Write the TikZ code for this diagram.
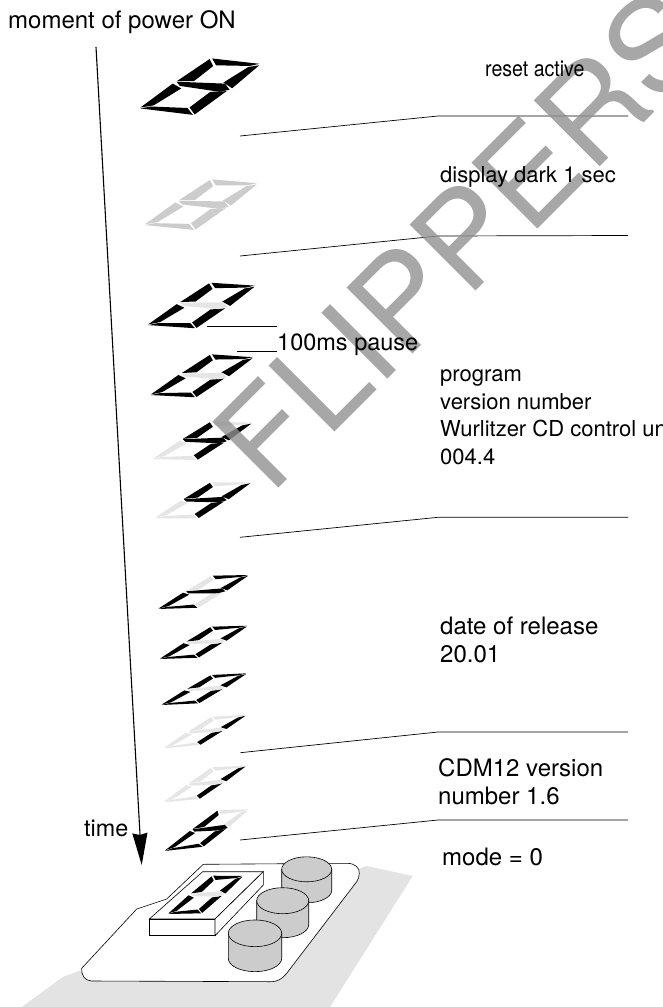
\documentclass[tikz,border=0pt]{standalone}
\usepackage{fontspec}
\setmainfont{TeX Gyre Heros}
\usetikzlibrary{calc,arrows.meta}
\definecolor{segoff}{gray}{0.90}
\definecolor{segdim}{gray}{0.80}
\definecolor{segon}{gray}{0}
\definecolor{knobgray}{gray}{0.80}
\definecolor{shadowgray}{gray}{0.89}
\definecolor{wmgray}{gray}{0.57}
\newcommand{\pp}[2]{($($(BL)!#2!(TL)$)!#1!($(BR)!#2!(TR)$)$)}
\newcommand{\corners}[4]{%
  \coordinate (BL) at (#1);\coordinate (BR) at (#2);\coordinate (TL) at (#3);\coordinate (TR) at (#4);}
\newcommand{\segs}[7]{%
  \fill[#1] \pp{.03}{1} -- \pp{.97}{1} -- \pp{.85}{.945} -- \pp{.26}{.89} -- cycle;
  \fill[#2] \pp{1}{.975} -- \pp{1.05}{.53} -- \pp{.78}{.61} -- \pp{.85}{.925} -- cycle;
  \fill[#3] \pp{1}{.01} -- \pp{.77}{.12} -- \pp{.77}{.425} -- \pp{1.02}{.47} -- cycle;
  \fill[#4] \pp{.02}{0} -- \pp{.98}{0} -- \pp{.75}{.105} -- \pp{.14}{.055} -- cycle;
  \fill[#5] \pp{0}{.015} -- \pp{.16}{.08} -- \pp{.22}{.425} -- \pp{-.03}{.49} -- cycle;
  \fill[#6] \pp{-.02}{.54} -- \pp{.26}{.575} -- \pp{.23}{.87} -- \pp{0}{.985} -- cycle;
  \fill[#7] \pp{-.01}{.53} -- \pp{.83}{.595} -- \pp{1.04}{.5} -- \pp{.92}{.445} -- \pp{.14}{.465} -- cycle;
}
\newcommand{\knob}[4]{% cx cy r h
  \fill[knobgray,draw=black,line width=.6pt] (#1-#3,#2) -- (#1-#3,#2+#4) arc[start angle=180,end angle=360,x radius=#3,y radius=-.5*#3] -- (#1+#3,#2) -- cycle;
  \filldraw[fill=knobgray,draw=black,line width=.6pt] (#1,#2) ellipse[x radius=#3,y radius=.5*#3];
}
\tikzset{
  lbl/.style={anchor=base west,inner sep=0pt,text=black,font=\fontsize{22}{22}\selectfont},
  lblbig/.style={lbl,font=\fontsize{24}{24}\selectfont},
  leader/.style={draw=black,line width=.7pt},
  thinline/.style={draw=black,line width=.6pt},
}
\begin{document}
\begin{tikzpicture}[x=1pt,y=-1pt]
\useasboundingbox (0,0) rectangle (662,1007);
\fill[white] (0,0) rectangle (662,1007);

% shadow and board
\fill[shadowgray] (366.7,866) -- (412.7,876) -- (330,1007) -- (21.7,1007) -- (63.3,976.7) -- cycle;
\filldraw[fill=white,thinline] (203.3,864.3) -- (347,863.3) .. controls (355,863.3) and (360,868) .. (359.3,873.3) .. controls (359,877) and (358.5,879) .. (356.7,881.7) -- (286.7,973.3) .. controls (282,979) and (278,981.7) .. (270,981.7) -- (91.7,981) .. controls (85,981) and (81,975) .. (81.7,968.3) -- (136.7,909) -- (166.7,899) -- cycle;
% display box
\filldraw[fill=white,thinline] (149.3,919) -- (202.7,871.7) -- (263.3,871.7) -- (215,919) -- cycle;
\filldraw[fill=white,thinline] (149.3,919) -- (215,919) -- (215,935.7) -- (149.3,935.7) -- cycle;
\filldraw[fill=white,thinline] (215,919) -- (263.3,871.7) -- (263.3,885) -- (215,935.7) -- cycle;
\corners{167.7,914}{201.7,913.3}{212.3,875.7}{243.3,876}
\segs{segon}{segon}{segon}{segon}{segon}{segon}{segoff}
% knobs
\knob{306.7}{869.3}{25}{21}
\knob{282.7}{900.7}{26}{24}
\knob{255}{933.3}{26.7}{25}

% digits
\corners{139.3,108.3}{194,115}{210.7,58.3}{261,64}
\segs{segon}{segon}{segon}{segon}{segon}{segon}{segon}
\corners{144,225}{195,230}{210.7,179.3}{258.3,183.3}
\segs{segdim}{segdim}{segdim}{segdim}{segdim}{segdim}{segdim}
\corners{147.3,325}{196,328.3}{210,282.7}{256,285.7}
\segs{segon}{segon}{segon}{segon}{segon}{segon}{segoff}
\corners{150,395}{196,397.3}{210.7,354.3}{254,357.3}
\segs{segon}{segon}{segon}{segon}{segon}{segon}{segoff}
\corners{152.3,459}{197.3,460}{210.7,421.7}{252.7,422.7}
\segs{segoff}{segon}{segon}{segoff}{segoff}{segon}{segon}
\corners{154.3,518.3}{198.3,518.3}{210.7,482.3}{251.7,482.3}
\segs{segoff}{segon}{segon}{segoff}{segoff}{segon}{segon}
\corners{157.7,609}{198.3,607.7}{211.7,575.7}{249.3,575}
\segs{segon}{segon}{segoff}{segon}{segon}{segoff}{segon}
\corners{159.3,659}{198.3,657.7}{211,626.7}{248.3,625.7}
\segs{segon}{segon}{segon}{segon}{segon}{segon}{segoff}
\corners{161,705}{199,703.3}{211,675}{247.3,673.3}
\segs{segon}{segon}{segon}{segon}{segon}{segon}{segoff}
\corners{163.3,748.3}{200,745}{211.7,716.7}{246.7,715}
\segs{segoff}{segon}{segon}{segoff}{segoff}{segoff}{segoff}
\corners{163.3,802.3}{199.3,799}{211.7,767.3}{246.7,765.7}
\segs{segoff}{segon}{segon}{segoff}{segoff}{segoff}{segoff}
\corners{164.3,851}{203.3,846.7}{218.3,810}{249.3,809.3}
\segs{segoff}{segoff}{segon}{segon}{segon}{segon}{segon}

% leader lines
\draw[leader] (240,136) -- (438,116) -- (628,116);
\draw[leader] (240,256) -- (438,236) -- (628,235.5);
\draw[leader] (240,537.3) -- (438,517.3) -- (628,517.3);
\draw[leader] (240.3,752.7) -- (438,732) -- (628,732);
\draw[leader] (240,840) -- (438,820) -- (628,820);
\draw[leader] (207,326) -- (277,326);
\draw[leader] (237,351) -- (277,351);

% watermark
\node[anchor=base west,inner sep=0pt,text=wmgray,opacity=.8,rotate=45,xscale=1.03,font=\fontsize{128}{128}\selectfont] (wm) at (270,497) {FLIPPERS};

% labels
\node[lblbig] (moment) at (8,28) {moment of power ON};
\node[lbl,xscale=.89] (reset) at (485,76) {reset active};
\node[lbl] (dark) at (440,182.7) {display dark 1 sec};
\node[lbl,font=\fontsize{23.5}{24}\selectfont] (pause) at (277,350) {100ms pause};
\node[lbl] (p1) at (440,381.7) {program};
\node[lbl] (p2) at (440,409) {version number};
\node[lbl] (p3) at (440,436.7) {Wurlitzer CD control un};
\node[lbl] (p4) at (440,464.3) {004.4};
\node[lblbig] (d1) at (440,634) {date of release};
\node[lblbig] (d2) at (440,662.3) {20.01};
\node[lblbig] (c1) at (438,776.7) {CDM12 version};
\node[lblbig] (c2) at (438,804.3) {number 1.6};
\node[lblbig] (mode) at (442,865.7) {mode = 0};
\node[lbl,font=\fontsize{23.3}{24}\selectfont] (timelbl) at (84,836.7) {time};

% time arrow
\coordinate (arrowstart) at (96,47);
\coordinate (arrowend) at (141.7,865);
\draw[black,line width=1.1pt,-{Stealth[length=32pt,width=15pt,inset=2pt]}] (arrowstart) -- (arrowend);
\end{tikzpicture}
\end{document}
